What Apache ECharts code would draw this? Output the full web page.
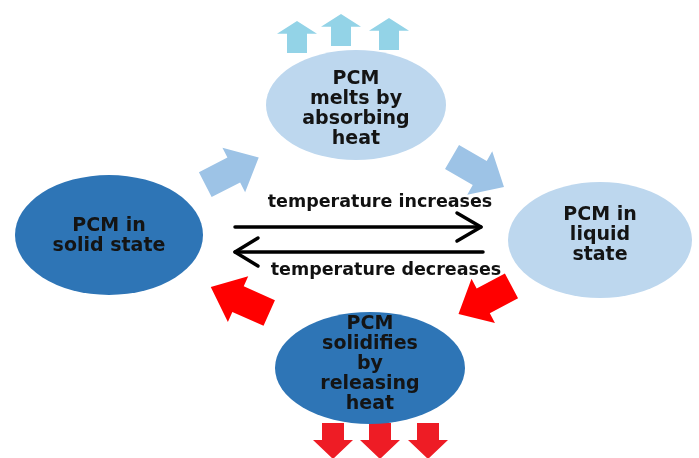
<!DOCTYPE html>
<html><head><meta charset="utf-8">
<script src="https://cdn.jsdelivr.net/npm/echarts@6/dist/echarts.min.js"></script>
<style>html,body{margin:0;padding:0;background:#fff}#c{width:699px;height:458px}</style>
</head><body><div id="c"></div>
<script>
// ---- data ----
const nodeNames = ['PCM in\nsolid state', 'PCM\nmelts by\nabsorbing\nheat', 'PCM in\nliquid\nstate', 'PCM\nsolidifies\nby\nreleasing\nheat'];
const nodeX = [109, 356, 600, 370];
const nodeY = [235, 105, 240, 368];

const processLabels = ['temperature increases', 'temperature decreases'];
const processLabelX = [380, 386];
const processLabelY = [202, 270];

const incLineX = [235, 481]; const incLineY = [227, 227];
const incHeadX = [457, 481, 457]; const incHeadY = [213, 227, 241];
const decLineX = [483, 235]; const decLineY = [252, 252];
const decHeadX = [258, 235, 258]; const decHeadY = [238, 252, 266];

const heatUpX = [297, 341, 389]; const heatUpY = [37, 30, 34];
const heatDownX = [333, 380, 428]; const heatDownY = [441, 441, 441];

const flowX = [232, 478, 240, 485];
const flowY = [171, 172, 300, 300];
const flowAngle = [27, -30, 156, 208];

// ---- styles ----
const nodeColors = ['#2e75b6', '#bdd7ee', '#bdd7ee', '#2e75b6'];
const nodeSizes = [[188, 120], [180, 110], [184, 116], [190, 112]];
const labelOffsets = [[0, 1], [0, 4], [0, -5], [0, -4]];
const flowColors = ['#9dc3e6', '#9dc3e6', '#ff0000', '#ff0000'];
const flowSizes = [[60, 50], [60, 50], [64, 50], [60, 50]];

const upArrow = 'path://M-10,30 L-10,12 L-20,12 L0,0 L20,12 L10,12 L10,30 Z';
const downArrow = 'path://M-11,0 L-11,17 L-20,17 L0,36 L20,17 L11,17 L11,0 Z';
const rightArrow = 'path://M0,-14 L32,-14 L32,-25 L60,0 L32,25 L32,14 L0,14 Z';

const font = '"DejaVu Sans", "Open Sans", sans-serif';

const zip = (xs, ys) => xs.map((x, i) => [x, ys[i]]);

const series = [];
// circles
series.push({
  type: 'scatter', z: 2,
  data: nodeNames.map((n, i) => ({
    name: n, value: [nodeX[i], nodeY[i]],
    symbolSize: nodeSizes[i],
    itemStyle: { color: nodeColors[i], opacity: 1 },
    label: { offset: labelOffsets[i] }
  })),
  symbol: 'circle',
  label: { show: true, position: 'inside', formatter: p => p.name, color: '#141414',
    fontFamily: font, fontWeight: 'bold', fontSize: 19, lineHeight: 20, align: 'center' }
});
// heat arrows up / down
series.push({ type: 'scatter', z: 1, symbol: upArrow, symbolSize: [40, 32], symbolKeepAspect: false,
  itemStyle: { color: '#93d3e7', opacity: 1 }, data: zip(heatUpX, heatUpY) });
series.push({ type: 'scatter', z: 1, symbol: downArrow, symbolSize: [40, 36], symbolKeepAspect: false,
  itemStyle: { color: '#ee1c25', opacity: 1 }, data: zip(heatDownX, heatDownY) });
// flow arrows
series.push({ type: 'scatter', z: 3, symbol: rightArrow,
  data: flowX.map((x, i) => ({ value: [x, flowY[i]], symbolRotate: flowAngle[i], symbolSize: flowSizes[i],
    itemStyle: { color: flowColors[i], opacity: 1 } })) });
// black process arrows
const lineStyle = { color: '#000', width: 3.5, cap: 'round', join: 'round' };
[[incLineX, incLineY], [incHeadX, incHeadY], [decLineX, decLineY], [decHeadX, decHeadY]].forEach(([xs, ys]) => {
  series.push({ type: 'line', z: 4, symbol: 'none', silent: true, lineStyle, data: zip(xs, ys) });
});
// process labels
series.push({ type: 'scatter', z: 5, symbolSize: 0, itemStyle: { opacity: 1 },
  data: processLabels.map((t, i) => ({ name: t, value: [processLabelX[i], processLabelY[i]] })),
  label: { show: true, position: 'inside', formatter: p => p.name, color: '#111', opacity: 1,
    fontFamily: font, fontWeight: 'bold', fontSize: 17.5 } });

const chart = echarts.init(document.getElementById('c'));
chart.setOption({
  animation: false,
  grid: { left: 0, right: 0, top: 0, bottom: 0 },
  xAxis: { type: 'value', min: 0, max: 699, show: false },
  yAxis: { type: 'value', min: 0, max: 458, inverse: true, show: false },
  series
});
</script></body></html>
